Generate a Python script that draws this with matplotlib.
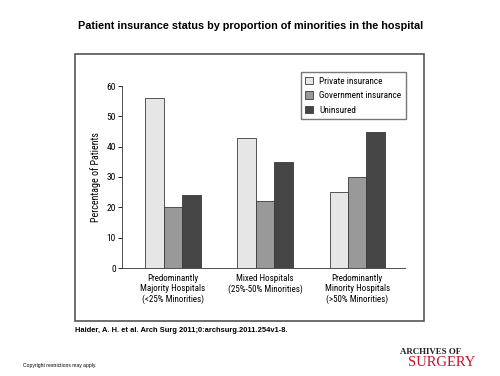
import matplotlib
matplotlib.use("Agg")
import matplotlib.pyplot as plt
from matplotlib.patches import Rectangle
import numpy as np

plt.rcParams['font.family'] = ['Roboto Condensed', 'Liberation Sans', 'DejaVu Sans']

categories = ["Predominantly\nMajority Hospitals\n(<25% Minorities)",
              "Mixed Hospitals\n(25%-50% Minorities)",
              "Predominantly\nMinority Hospitals\n(>50% Minorities)"]
series_names = ["Private insurance", "Government insurance", "Uninsured"]
private = [56, 43, 25]
government = [20, 22, 30]
uninsured = [24, 35, 45]
yticks = [0, 10, 20, 30, 40, 50, 60]

colors = ["#e6e6e6", "#999999", "#454545"]
edge = "#3a3a3a"
SANS = ["Liberation Sans", "DejaVu Sans"]

fig = plt.figure(figsize=(5, 3.76), dpi=100)
W, H = 500, 376

# outer frame around the chart
fig.patches.append(Rectangle((75 / W, 1 - 321 / H), (424 - 75) / W, (321 - 54) / H,
                             transform=fig.transFigure, fill=False,
                             edgecolor="#555555", linewidth=1.2))

ax = fig.add_axes([122 / W, 1 - 268 / H, (405 - 122) / W, (268 - 86) / H])
x = np.arange(len(categories))
w = 0.2
for i, (vals, name) in enumerate(zip([private, government, uninsured], series_names)):
    ax.bar(x + (i - 1) * w, vals, width=w, color=colors[i], edgecolor=edge,
           linewidth=0.6, label=name)

ax.set_xlim(-0.554, 2.52)
ax.set_ylim(0, 60)
ax.set_yticks(yticks)
ax.set_xticks(x)
ax.set_xticklabels(categories, fontsize=6.5, linespacing=1.2)
ax.tick_params(axis="x", length=0, pad=4)
ax.tick_params(axis="y", labelsize=6.8, length=3, width=0.6, pad=1.5)
for s in ["top", "right"]:
    ax.spines[s].set_visible(False)
for s in ["left", "bottom"]:
    ax.spines[s].set_linewidth(0.6)
    ax.spines[s].set_color("#333333")
ax.set_ylabel("Percentage of Patients", fontsize=7.2, labelpad=4)

ax.legend(loc="upper right", bbox_to_anchor=(406 / W, 1 - 72 / H),
          bbox_transform=fig.transFigure, borderaxespad=0, fontsize=6.7,
          frameon=True, fancybox=False, edgecolor="#555555", handlelength=0.8,
          handleheight=0.8, handletextpad=0.7, borderpad=0.5, labelspacing=0.6)

fig.text(251 / W, 1 - 26 / H,
         "Patient insurance status by proportion of minorities in the hospital",
         ha="center", va="center", fontsize=7.8, fontweight="bold", family=SANS)
fig.text(75 / W, 1 - 331 / H, "Haider, A. H. et al. Arch Surg 2011;0:archsurg.2011.254v1-8.",
         ha="left", va="center", fontsize=5.4, fontweight="bold", family=SANS)
fig.text(23 / W, 1 - 366 / H, "Copyright restrictions may apply.",
         ha="left", va="center", fontsize=3.6, family=SANS)
fig.text(400 / W, 1 - 352 / H, "ARCHIVES OF", ha="left", va="center",
         fontsize=6.4, color="#222222", fontweight="bold",
         family=["Liberation Serif", "DejaVu Serif"])
fig.text(408 / W, 1 - 363 / H, "SURGERY", ha="left", va="center",
         fontsize=10.5, color="#c8102e", family=["Liberation Serif", "DejaVu Serif"])

fig.savefig("out.png", dpi=100)
